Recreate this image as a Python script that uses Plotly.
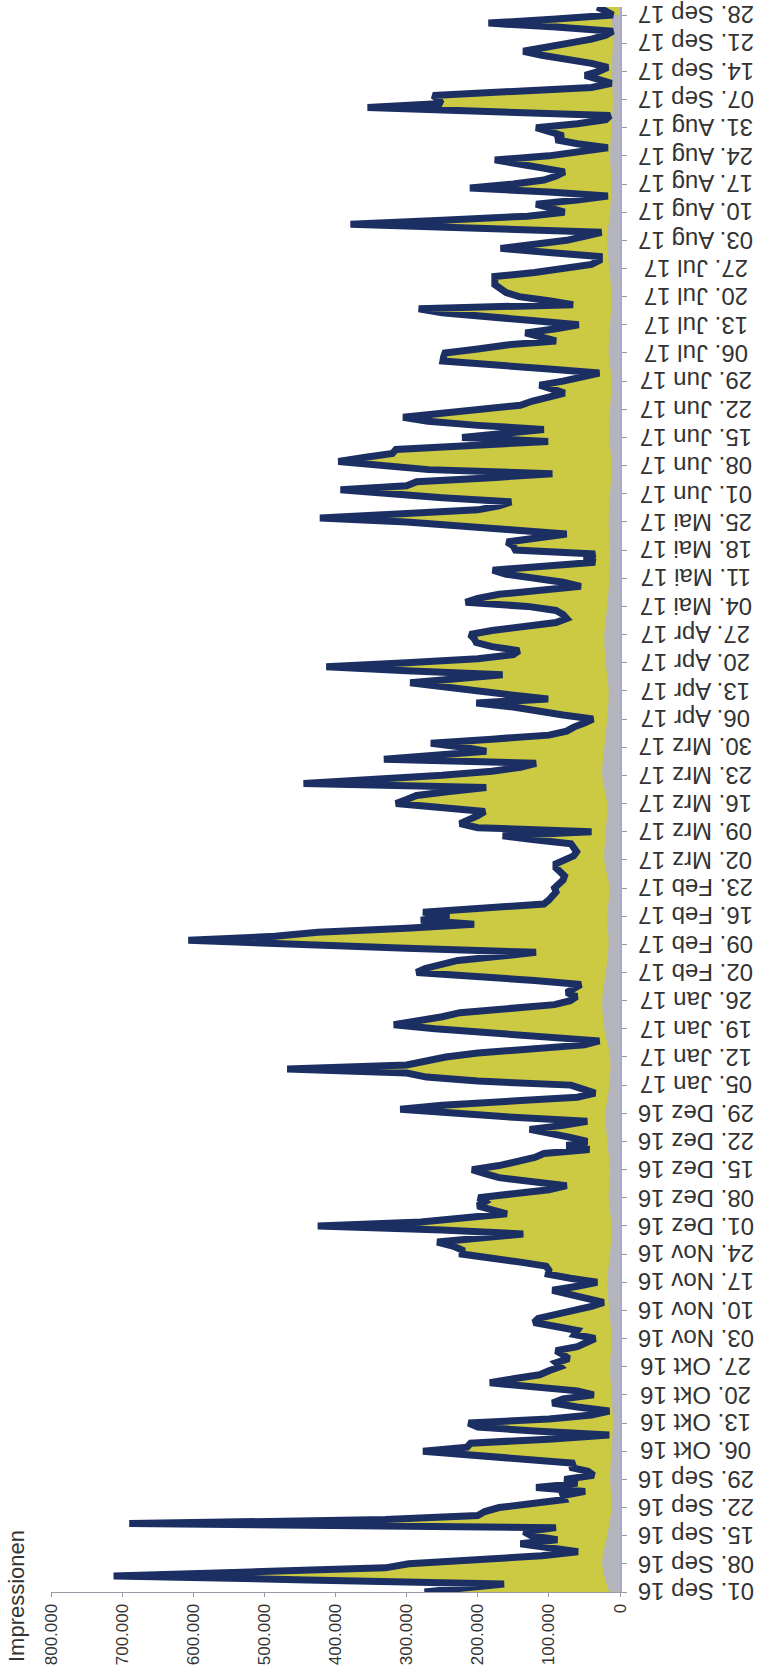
import pandas as pd
import plotly.graph_objects as go

# daily impressions (in thousands), 01 Sep 2016 .. 30 Sep 2017
impressions_k = [
    275, 215, 163, 440, 712, 520, 330, 297, 200, 110, 59, 100, 140, 88, 125, 135, 90, 690, 330, 200, 190, 170,
    120, 78, 80, 49, 118, 60, 78, 37, 45, 70, 64, 140, 205, 277, 215, 210, 100, 15, 120, 200, 213, 100, 40, 15,
    60, 95, 80, 37, 60, 120, 183,
    150, 113, 100, 84, 90, 72, 80, 90, 60, 45, 35, 64, 60, 90, 121, 115, 90, 60, 40, 23, 50, 75, 95, 60, 32, 70,
    101, 100, 104, 140, 180, 222,
    222, 235, 257, 200, 136, 250, 425, 280, 225, 159, 180, 200, 190, 199, 150, 100, 75, 120, 170, 190, 208, 170,
    140, 120, 107, 43, 75, 46, 70, 100, 127, 80, 46, 150, 245, 309, 250,
    150, 60, 35, 50, 69, 200, 272, 300, 468, 300, 270, 245, 200, 120, 50, 29, 107, 200, 260, 318, 280, 250, 225,
    150, 92, 70, 61, 75, 65, 55, 120, 200, 286,
    274, 250, 228, 170, 118, 300, 450, 607, 485, 425, 300, 205, 280, 240, 277, 190, 107, 100, 95, 90, 92, 85, 80,
    78, 85, 90, 90, 75, 65, 61, 65, 69, 120, 165, 40,
    200, 225, 210, 200, 190, 250, 315, 300, 286, 240, 188, 445, 340, 250, 180, 140, 118, 332, 260, 188, 220, 266,
    180, 100, 75, 65, 50, 38, 80, 113, 150, 202, 101, 153,
    200, 250, 295, 230, 165, 300, 413, 300, 200, 150, 142, 180, 202, 205, 211, 180, 130, 90, 75, 80, 90, 130, 217,
    200, 170, 110, 55, 80, 120, 160, 179, 100, 35,
    50, 35, 147, 150, 159, 110, 75, 150, 234, 300, 422, 300, 200, 170, 153, 250, 330, 393, 300, 286, 180, 95, 269,
    330, 396, 360, 320, 315, 200, 101, 222, 160, 107, 200, 270, 305,
    250, 180, 140, 124, 100, 78, 95, 113, 80, 50, 29, 100, 180, 249, 248, 246, 200, 159, 90, 110, 133, 90, 58, 120,
    200, 250, 283, 66, 100, 142,
    160, 170, 176, 176, 176, 120, 70, 40, 29, 29, 100, 168, 120, 75, 50, 26, 200, 379, 250, 130, 78, 100, 118, 60,
    17, 100, 211, 150, 107, 90, 78, 110, 150, 176, 100, 50, 17,
    60, 90, 80, 100, 118, 60, 20, 14, 200, 355, 251, 255, 263, 150, 40, 12, 30, 49, 30, 17, 40, 80, 110, 136, 100,
    61, 40, 20, 10, 90, 185, 90, 10, 20, 32,
]
start_date = "2016-09-01"

# small grey series (thousands), weekly readings
grey_k = [15, 25, 18, 12, 14, 12, 10, 12, 14, 12, 15, 18, 14, 12, 16, 14, 18, 20, 15, 14, 22, 25, 20, 16, 18,
          15, 22, 20, 18, 25, 22, 18, 16, 20, 22, 18, 15, 14, 16, 14, 12, 15, 14, 12, 16, 14, 12, 15, 18, 14,
          12, 14, 12, 10, 12, 10, 12]

value_ticks = [0, 100000, 200000, 300000, 400000, 500000, 600000, 700000, 800000]
value_labels = ["0", "100.000", "200.000", "300.000", "400.000", "500.000", "600.000", "700.000", "800.000"]
month_de = {1: "Jan", 2: "Feb", 3: "Mrz", 4: "Apr", 5: "Mai", 6: "Jun", 7: "Jul", 8: "Aug",
            9: "Sep", 10: "Okt", 11: "Nov", 12: "Dez"}

dates = pd.date_range(start_date, periods=len(impressions_k), freq="D")
total = [v * 1000 for v in impressions_k]
grey_dates = pd.date_range(start_date, periods=len(grey_k), freq="7D")
grey = [v * 1000 for v in grey_k]

tick_dates = pd.date_range(start_date, "2017-09-28", freq="7D")
tick_text = [f"{d.day:02d}. {month_de[d.month]} {d.year % 100:02d}" for d in tick_dates]

W, H = 773, 1667
L, R, T, B = 51, 153, 7, 75

fig = go.Figure()
fig.add_trace(go.Scatter(x=total, y=dates, mode="none", fill="tozerox",
                         fillcolor="#cbca42", hoverinfo="skip"))
fig.add_trace(go.Scatter(x=grey, y=grey_dates, mode="none", fill="tozerox",
                         fillcolor="#b4b4bc", line_shape="spline", hoverinfo="skip"))
fig.add_trace(go.Scatter(x=total, y=dates, mode="lines",
                         line=dict(color="#1c2f63", width=7)))

annotations = []
for d, t in zip(tick_dates, tick_text):
    annotations.append(dict(text=t, textangle=180, xref="paper", yref="y",
                            x=1, y=d, xshift=76, xanchor="center", yanchor="middle",
                            showarrow=False, font=dict(size=24, color="#333333")))
annotations.append(dict(text="Impressionen", textangle=-90, xref="paper", yref="paper",
                        x=(16 - L) / (W - L - R), y=(H - B - 1596) / (H - T - B),
                        xanchor="center", yanchor="middle",
                        showarrow=False, font=dict(size=22, color="#333333")))

fig.update_layout(
    width=W, height=H,
    margin=dict(l=L, r=R, t=T, b=B, autoexpand=False),
    paper_bgcolor="white", plot_bgcolor="white",
    showlegend=False,
    font=dict(family="Liberation Sans, Arial, sans-serif", size=19, color="#333333"),
    xaxis=dict(range=[800000, 0], tickvals=value_ticks, ticktext=value_labels,
               tickangle=-90, showgrid=False, zeroline=False, automargin=False,
               showline=True, linecolor="#9a9aa6", linewidth=1,
               ticks="outside", ticklen=4, tickcolor="#9a9aa6",
               tickfont=dict(size=17, color="#333333")),
    yaxis=dict(range=["2016-09-01", "2017-09-30"], side="right",
               tickvals=list(tick_dates), showticklabels=False,
               showgrid=False, zeroline=False, automargin=False,
               showline=True, linecolor="#a8a8c8", linewidth=2,
               ticks="outside", ticklen=5, tickcolor="#9a9aa6"),
    annotations=annotations,
)

fig.write_html("out.html", config={"displayModeBar": False, "staticPlot": True},
               post_script="document.body.style.margin='0';document.body.style.overflow='hidden';")
